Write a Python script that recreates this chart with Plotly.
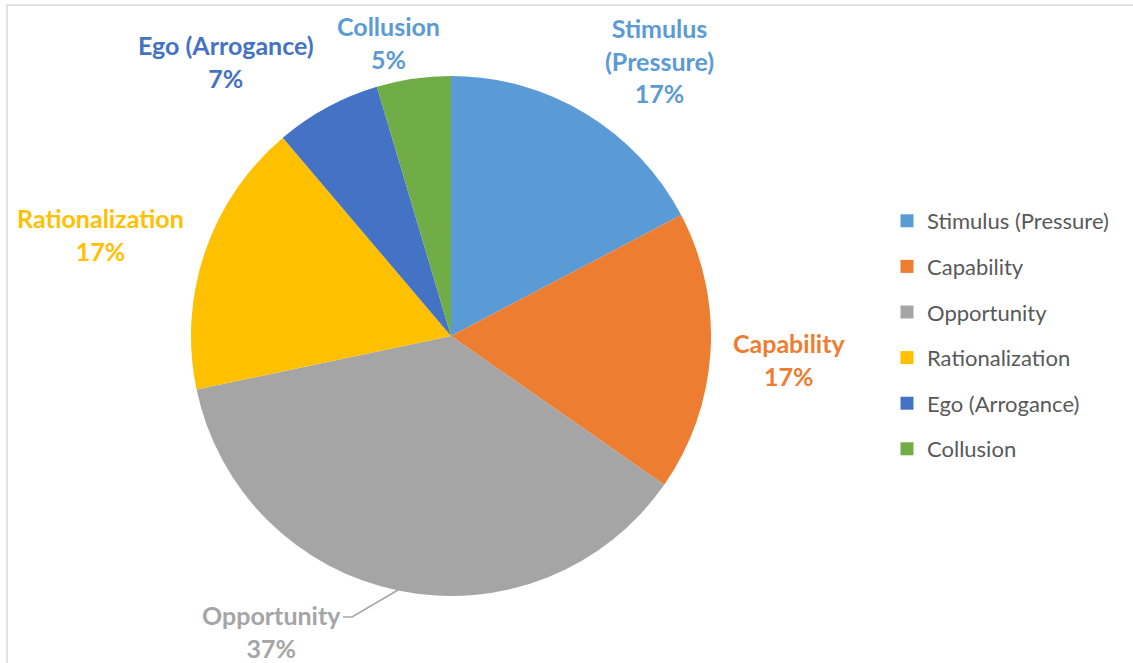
import plotly.graph_objects as go

# ---- data ----
categories = ["Stimulus (Pressure)", "Capability", "Opportunity",
              "Rationalization", "Ego (Arrogance)", "Collusion"]
values = [17.3, 17.4, 37.0, 17.1, 6.6, 4.6]
label_names = ["Stimulus<br>(Pressure)", "Capability", "Opportunity",
               "Rationalization", "Ego (Arrogance)", "Collusion"]

# ---- styles / layout ----
colors = ["#5B9BD5", "#ED7D31", "#A5A5A5", "#FFC000", "#4472C4", "#70AD47"]
label_colors = ["#5B9BD5", "#ED7D31", "#A5A5A5", "#FFC000", "#4472C4", "#5B9BD5"]
W, H = 1133, 663
# label centre positions in pixels (layout only)
label_pos = [(659, 60), (789, 359), (271, 631), (100, 234), (226, 61), (389, 43)]
FONT = "Lato, Carlito, Calibri, sans-serif"

cx, cy, r = 451, 336, 260

fig = go.Figure()
fig.add_trace(go.Pie(
    labels=categories, values=values,
    marker=dict(colors=colors, line=dict(width=0)),
    sort=False, direction="clockwise", rotation=0,
    textinfo="none", hoverinfo="label+percent",
    showlegend=False,
    domain=dict(x=[(cx - r) / W, (cx + r) / W],
                y=[1 - (cy + r) / H, 1 - (cy - r) / H]),
))

# legend entries (square markers)
for name, col in zip(categories, colors):
    fig.add_trace(go.Scatter(
        x=[None], y=[None], mode="markers", name=name, legendgroup=name,
        marker=dict(symbol="square", size=13, color=col),
        hoverinfo="skip", showlegend=True,
    ))

total = sum(values)
annotations = []
for name, v, col, (px, py) in zip(label_names, values, label_colors, label_pos):
    pct = round(v / total * 100)
    annotations.append(dict(
        x=px / W, y=1 - py / H, xref="paper", yref="paper",
        xanchor="center", yanchor="middle", showarrow=False,
        text=f"<b>{name}<br>{pct}%</b>",
        font=dict(family=FONT, size=25, color=col), align="center",
    ))

# leader line for Opportunity
pts = [(343, 617), (352, 617), (398, 590)]
path = "M " + " L ".join(f"{x / W},{1 - y / H}" for x, y in pts)

fig.update_layout(
    width=W, height=H,
    margin=dict(l=0, r=0, t=0, b=0),
    paper_bgcolor="white", plot_bgcolor="white",
    xaxis=dict(visible=False), yaxis=dict(visible=False),
    annotations=annotations,
    shapes=[
        dict(type="path", path=path, xref="paper", yref="paper",
             line=dict(color="#A5A5A5", width=1.5)),
        dict(type="rect", xref="paper", yref="paper",
             x0=7 / W, x1=1.05, y0=-0.05, y1=1 - 5 / H,
             line=dict(color="#D9D9D9", width=1.5)),
    ],
    legend=dict(
        x=887 / W, xanchor="left", y=1 - 335 / H, yanchor="middle",
        font=dict(family=FONT, size=22, color="#595959"),
        tracegroupgap=14, bgcolor="rgba(0,0,0,0)",
    ),
    showlegend=True,
)

fig.write_html("out.html")
